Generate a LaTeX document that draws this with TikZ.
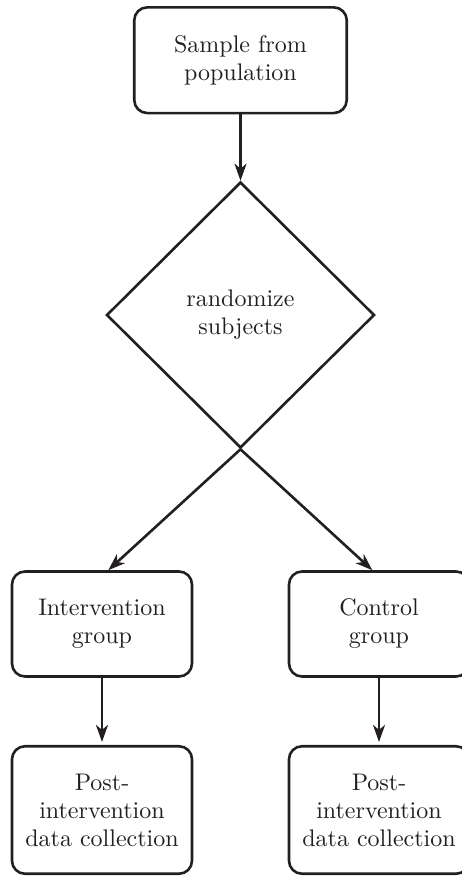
\documentclass[tikz,border=0pt]{standalone}
\usepackage{fontspec}
\setmainfont{lmroman10-regular}[Extension=.otf]
\usetikzlibrary{shapes.geometric,arrows.meta}
\definecolor{ink}{RGB}{35,31,32}
\begin{document}
\begin{tikzpicture}[x=1pt,y=-1pt,
  every node/.style={text=ink},
  box/.style={draw=ink, line width=2.6pt, rounded corners=13pt, align=center,
    inner sep=0pt, font=\fontsize{24}{28}\selectfont},
  decision/.style={draw=ink, diamond, line width=2.6pt, align=center, inner sep=0pt,
    minimum width=268pt, minimum height=266pt, font=\fontsize{24}{28}\selectfont},
  arr/.style={draw=ink, line width=2.6pt, -{Stealth[length=17pt,width=12pt,inset=5pt]}}
]
\useasboundingbox (0,0) rectangle (462,876);
\clip (0,0) rectangle (462,876);
\node[box, minimum width=212.5pt, minimum height=105.7pt] (top) at (240.5,60.2) {Sample from\\population};
\node[decision] (dia) at (240.5,315) {randomize\\subjects};
\node[box, minimum width=180pt, minimum height=105pt] (lgrp) at (102,624) {Intervention\\group};
\node[box, minimum width=180pt, minimum height=105pt] (rgrp) at (379,624) {Control\\group};
\node[box, minimum width=180pt, minimum height=127.5pt] (lpost) at (102,810) {Post-\\intervention\\data collection};
\node[box, minimum width=180pt, minimum height=127.5pt] (rpost) at (379,810) {Post-\\intervention\\data collection};
\draw[arr] (top.south) -- (dia.north);
\draw[arr] (dia.south) -- ([xshift=6.3pt]lgrp.north);
\draw[arr] (dia.south) -- ([xshift=-6.7pt]rgrp.north);
\draw[arr, shorten >=3pt] (lgrp.south) -- (lpost.north);
\draw[arr, shorten >=3pt] (rgrp.south) -- (rpost.north);
\end{tikzpicture}
\end{document}
